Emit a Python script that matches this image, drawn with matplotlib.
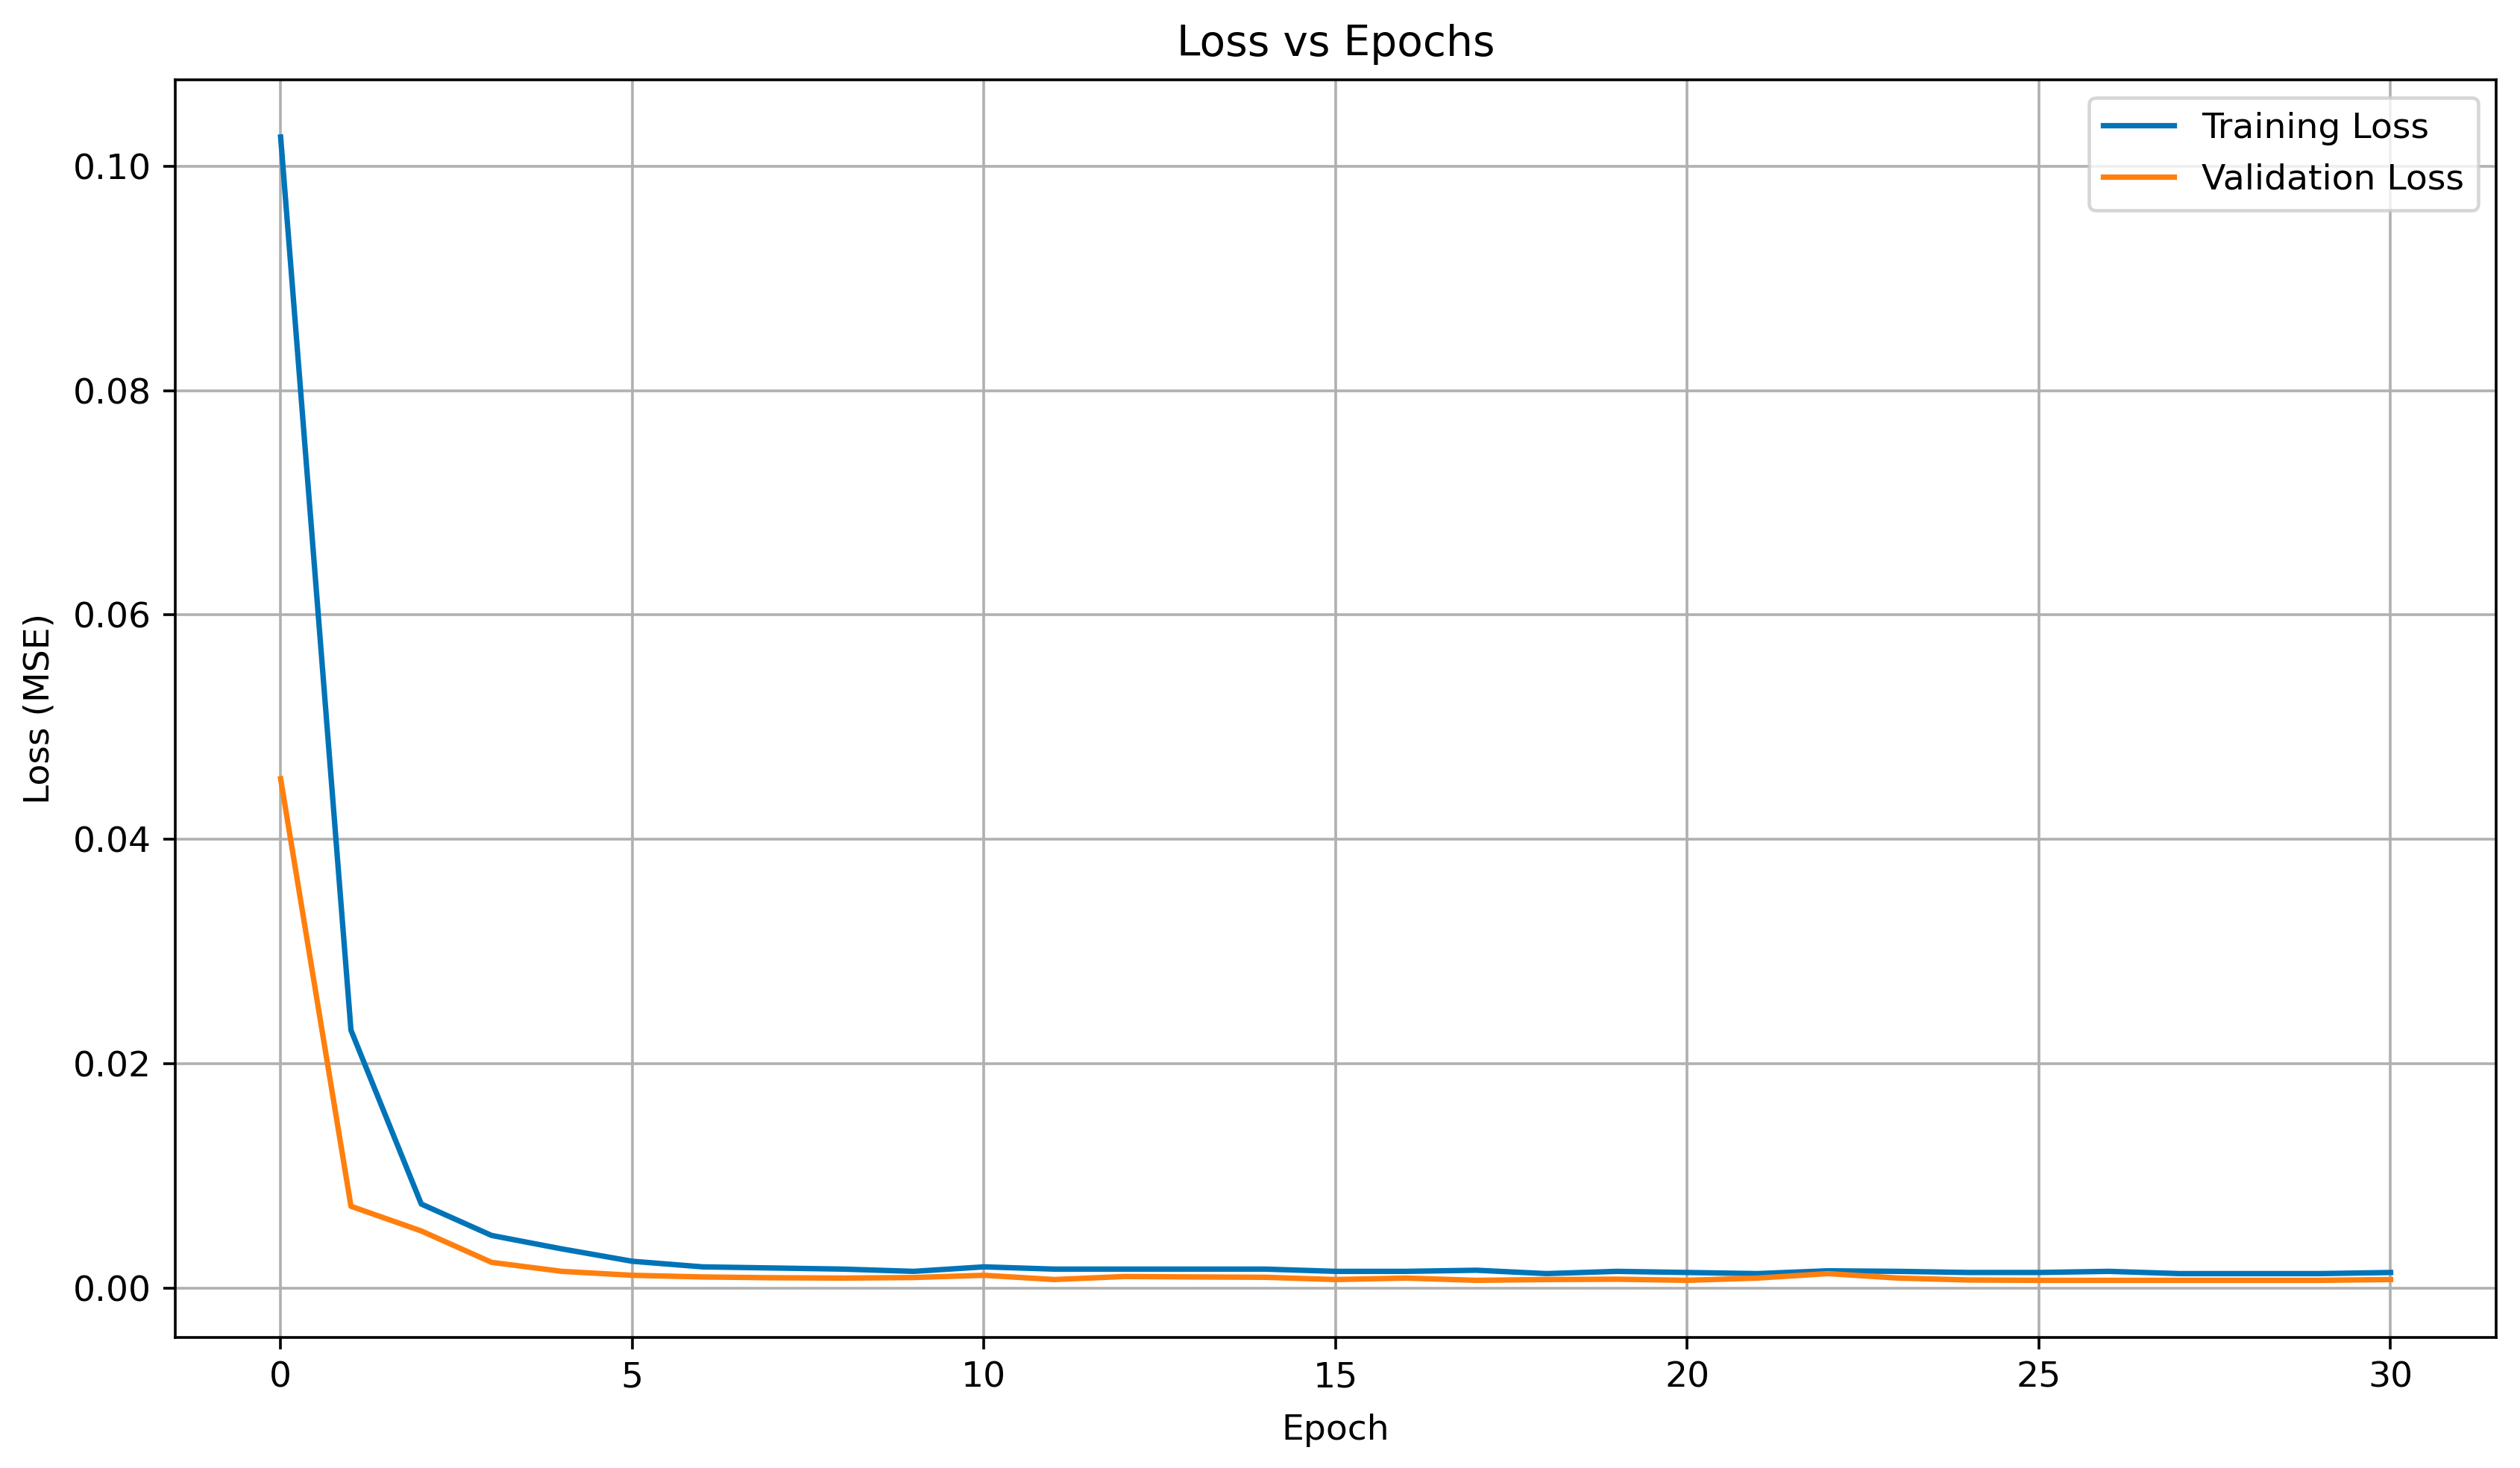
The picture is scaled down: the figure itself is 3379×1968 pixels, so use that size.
import numpy as np
import matplotlib
matplotlib.use("Agg")
import matplotlib.pyplot as plt

# Loss values (31 epochs)
epochs = np.arange(31)
train_loss = [0.1026, 0.0230, 0.0075, 0.0047, 0.0035, 0.0024, 0.0019, 0.0018, 0.0017, 0.0015,
              0.0019, 0.0017, 0.0017, 0.0017, 0.0017, 0.0015, 0.0015, 0.0016, 0.0013, 0.0015,
              0.0014, 0.0013, 0.00155, 0.0015, 0.0014, 0.0014, 0.0015, 0.0013, 0.0013, 0.0013,
              0.0014]
val_loss = [0.0454, 0.0073, 0.0051, 0.0023, 0.0015, 0.00115, 0.0010, 0.00093, 0.0009, 0.00095,
            0.00115, 0.00077, 0.00104, 0.0010, 0.00097, 0.00077, 0.0009, 0.0007, 0.00077, 0.0008,
            0.0007, 0.0009, 0.0013, 0.0009, 0.00073, 0.0007, 0.0007, 0.0007, 0.0007, 0.0007,
            0.00077]

plt.rcParams['font.size'] = 10.4
plt.rcParams['lines.linewidth'] = 1.6

dpi = 327
fig = plt.figure(figsize=(3379 / dpi, 1968 / dpi), dpi=dpi)
ax = fig.add_axes([0.0695, 0.0889, 0.921, 0.8567])

ax.plot(epochs, train_loss, color='#0174b8', label='Training Loss')
ax.plot(epochs, val_loss, color='#ff7f0e', label='Validation Loss')
ax.set_xlabel('Epoch', labelpad=5.5)
ax.set_ylabel('Loss (MSE)', labelpad=5)
ax.set_title('Loss vs Epochs', pad=7)
ax.legend(loc='upper right')
ax.grid(True)

fig.savefig('out.png', dpi=dpi)
